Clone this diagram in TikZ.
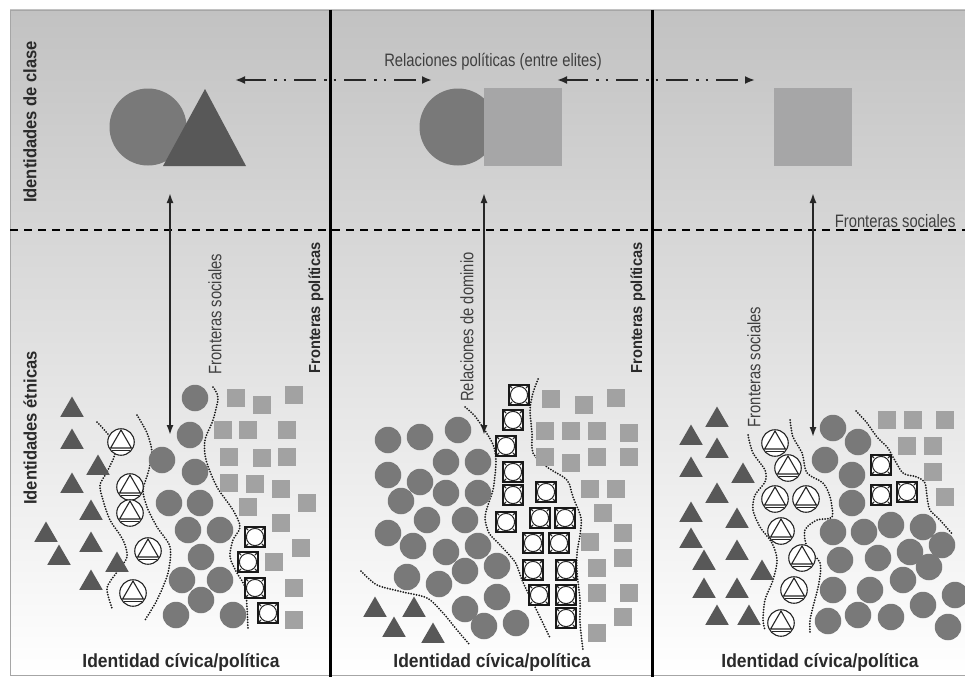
\documentclass[tikz,border=0pt]{standalone}
\usepackage{fontspec}
\setmainfont{Liberation Sans}
\newfontfamily\narrowlbl[FakeStretch=0.82]{Liberation Sans}
\newfontfamily\boldlbl[FakeStretch=0.92]{Liberation Sans}
\usetikzlibrary{shapes.geometric,arrows.meta}

\definecolor{bgtop}{HTML}{C2C2C2}
\definecolor{bgmid}{HTML}{E3E3E3}
\definecolor{bgbot}{HTML}{FFFFFF}
\definecolor{circgray}{HTML}{797979}
\definecolor{trigray}{HTML}{585858}
\definecolor{sqgray}{HTML}{A2A2A2}
\definecolor{bigsq}{HTML}{A6A6A7}
\definecolor{txtgray}{HTML}{2A2A2A}

\tikzset{
  circ/.style={circle, fill=circgray, minimum size=26.5pt, inner sep=0pt},
  tri/.style={regular polygon, regular polygon sides=3, fill=trigray,
    minimum size=27pt, inner sep=0pt, yshift=-3pt},
  sq/.style={rectangle, fill=sqgray, minimum size=18pt, inner sep=0pt},
  circtri/.style={circle, draw=black!85, line width=1.1pt, fill=white,
    minimum size=26.5pt, inner sep=0pt,
    path picture={
      \draw[black!85, line width=1.1pt]
        ([yshift=12pt]path picture bounding box.center)
        -- ([shift={(-10.4pt,-6pt)}]path picture bounding box.center)
        -- ([shift={(10.4pt,-6pt)}]path picture bounding box.center) -- cycle;
      \draw[black!85, line width=1.1pt]
        ([shift={(-9pt,-8.8pt)}]path picture bounding box.center)
        -- ([shift={(9pt,-8.8pt)}]path picture bounding box.center);
    }},
  sqcirc/.style={rectangle, draw=black!90, line width=1.6pt, fill=white,
    minimum size=20.5pt, inner sep=0pt,
    path picture={
      \draw[black!85, line width=1pt]
        (path picture bounding box.center) circle[radius=8.6pt];
      \foreach \a in {45,135,225,315}
        \draw[black!85, line width=1.1pt]
          ([shift={(\a:14.5pt)}]path picture bounding box.center)
          -- ([shift={(\a:10pt)}]path picture bounding box.center);
    }},
  frontdots/.style={line width=2pt, black!90, line cap=round,
    dash pattern=on 0pt off 2.7pt},
  relarrow/.style={line width=2.3pt, black!85,
    dash pattern=on 22pt off 8pt on 2.5pt off 7pt on 2.5pt off 8pt,
    {Latex[length=10pt,width=8pt]}-{Latex[length=10pt,width=8pt]}},
  domarrow/.style={line width=1.8pt, black!85,
    {Latex[length=10pt,width=7pt]}-{Latex[length=10pt,width=7pt]}},
  boldtxt/.style={text=txtgray, font=\boldlbl\bfseries\fontsize{#1}{#1}\selectfont},
  thintxt/.style={text=txtgray!90, font=\narrowlbl\fontsize{18}{20}\selectfont},
}

\begin{document}
\begin{tikzpicture}[x=1pt,y=-1pt]
\useasboundingbox (0,0) rectangle (965,677);
%% background
\shade[top color=bgtop, middle color=bgmid, bottom color=bgbot] (10,10) rectangle (965,675);
\draw[gray!70, line width=0.6pt] (965,10) -- (10,10) -- (10,675) -- (965,675);

%% class level
\fill[circgray] (148,127) circle[radius=38.5pt];
\fill[trigray] (205,89) -- (246,166) -- (163,166) -- cycle;
\fill[circgray] (458,127) circle[radius=38.5pt];
\fill[bigsq] (484,88) rectangle (562,166);
\fill[bigsq] (774,88) rectangle (852,166);

%% political borders
\draw[line width=3pt] (330,10) -- (330,677);
\draw[line width=3pt] (652,10) -- (652,677);
%% social border
\draw[line width=2.2pt, dash pattern=on 8pt off 6pt] (10,230) -- (965,230);

%% relations between elites
\coordinate (rel1a) at (235,80);
\coordinate (rel1b) at (432,80);
\coordinate (rel2a) at (557,80);
\coordinate (rel2b) at (755,80);
\draw[relarrow] (rel1a) -- (rel1b);
\draw[relarrow] (rel2a) -- (rel2b);
\node[thintxt] (reltxt) at (493,62) {Relaciones políticas (entre elites)};
\node[thintxt, anchor=base east] (fsoc) at (959,227) {Fronteras sociales};

%% vertical relations
\coordinate (up1) at (170,193);
\coordinate (dn1) at (170,435);
\coordinate (up2) at (484,193);
\coordinate (dn2) at (484,435);
\coordinate (up3) at (813,193);
\coordinate (dn3) at (813,437);
\draw[domarrow] (up1) -- (dn1);
\draw[domarrow] (up2) -- (dn2);
\draw[domarrow] (up3) -- (dn3);

%% labels
\node[boldtxt=18, rotate=90] (clase) at (30,122) {Identidades de clase};
\node[boldtxt=18, rotate=90] (etnia) at (30,428) {Identidades étnicas};
\node[boldtxt=15.9, rotate=90] (fpol1) at (316,308) {Fronteras políticas};
\node[boldtxt=15.9, rotate=90] (fpol2) at (638,308) {Fronteras políticas};
\node[thintxt, rotate=90] (fsoc1) at (215,314) {Fronteras sociales};
\node[thintxt, rotate=90] (dom) at (467,327) {Relaciones de dominio};
\node[thintxt, rotate=90] (fsoc3) at (754,367) {Fronteras sociales};
\node[boldtxt=19] (civ1) at (181,662) {Identidad cívica/política};
\node[boldtxt=19] (civ2) at (492,662) {Identidad cívica/política};
\node[boldtxt=19] (civ3) at (820,662) {Identidad cívica/política};

%% panel 1
\draw[frontdots] plot[smooth] coordinates {(97,422) (110,437) (115,453) (107,472) (100,485) (103,500) (110,520) (123,540) (127,557) (117,572) (107,588) (112,608)};
\draw[frontdots] plot[smooth] coordinates {(137,415) (147,433) (152,453) (148,473) (143,490) (147,507) (157,527) (170,547) (168,573) (157,600) (145,620)};
\draw[frontdots] plot[smooth] coordinates {(213,387) (218,398) (213,420) (205,440) (206,460) (217,487) (233,510) (240,527) (233,540) (230,557) (237,573) (245,587) (247,607) (248,630)};
\foreach \x/\y [count=\i] in {72/407, 72/439, 98/465, 72/483, 91/510, 46/532, 91/542, 59/555, 117/562, 91/580}
  \node[tri] (ta\i) at (\x,\y) {};
\foreach \x/\y [count=\i] in {121/442, 130/487, 130/513, 148/551, 133/593}
  \node[circtri] (ka\i) at (\x,\y) {};
\foreach \x/\y [count=\i] in {195/398, 190/435, 162/460, 195/472, 169/503, 200/503, 188/530, 220/530, 201/557, 182/580, 220/580, 201/600, 176/615, 233/615}
  \node[circ] (ca\i) at (\x,\y) {};
\foreach \x/\y [count=\i] in {236/398, 262/405, 294/395, 223/430, 248/430, 287/430, 229/457, 262/458, 287/457, 229/483, 255/484, 281/489, 307/503, 248/507, 281/523, 301/548, 274/562, 294/588, 294/620}
  \node[sq] (sa\i) at (\x,\y) {};
\foreach \x/\y [count=\i] in {255/537, 248/562, 255/588, 268/613}
  \node[sqcirc] (qa\i) at (\x,\y) {};

%% panel 2
\draw[frontdots] plot[smooth] coordinates {(361,571) (377,585) (403,592) (427,598) (443,613) (457,630) (470,645)};
\draw[frontdots] plot[smooth] coordinates {(465,407) (474,415) (482,426) (489,437) (494,447) (496,460) (495,475) (493,490) (488,505) (485,518) (489,533) (500,545) (515,562) (522,580) (530,597) (540,617) (550,638)};
\draw[frontdots] plot[smooth] coordinates {(538,379) (533,393) (530,410) (532,433) (533,453) (547,467) (567,480) (573,497) (581,518) (580,535) (577,553) (577,573) (580,600) (580,623) (583,650)};
\foreach \x/\y [count=\i] in {458/430, 420/437, 388/440, 446/462, 478/462, 388/475, 420/482, 446/493, 478/493, 401/501, 427/520, 465/520, 388/533, 413/546, 446/552, 478/546, 497/566, 465/571, 407/577, 439/584, 497/597, 465/609, 484/626, 516/623}
  \node[circ] (cb\i) at (\x,\y) {};
\foreach \x/\y [count=\i] in {375/607, 414/607, 394/627, 433/633}
  \node[tri] (tb\i) at (\x,\y) {};
\foreach \x/\y [count=\i] in {519/395, 513/420, 506/446, 513/472, 513/495, 546/492, 506/522, 540/518, 565/518, 533/543, 559/543, 533/570, 566/570, 539/595, 566/595, 566/618}
  \node[sqcirc] (qb\i) at (\x,\y) {};
\foreach \x/\y [count=\i] in {551/399, 584/405, 616/398, 545/431, 571/431, 597/431, 629/433, 545/457, 571/463, 597/457, 629/457, 590/489, 616/489, 603/513, 623/533, 590/542, 623/558, 597/568, 597/593, 629/593, 623/617, 597/633}
  \node[sq] (sb\i) at (\x,\y) {};

%% panel 3
\draw[frontdots] plot[smooth] coordinates {(748,435) (753,453) (765,470) (765,482) (755,495) (753,510) (760,527) (772,543) (777,560) (773,580) (765,600) (763,620) (765,630)};
\draw[frontdots] plot[smooth] coordinates {(790,420) (793,437) (802,453) (807,473) (823,483) (830,497) (832,517) (817,520) (805,530) (807,547) (820,563) (819,583) (814,603) (810,620) (810,633)};
\draw[frontdots] plot[smooth] coordinates {(856,411) (867,423) (877,437) (887,447) (893,457) (903,473) (917,477) (925,483) (927,497) (930,510) (940,520) (953,535)};
\foreach \x/\y [count=\i] in {717/417, 691/435, 717/448, 691/467, 743/473, 717/493, 691/512, 737/518, 691/538, 737/550, 704/560, 762/570, 704/588, 737/588, 717/615, 749/615}
  \node[tri] (tc\i) at (\x,\y) {};
\foreach \x/\y [count=\i] in {775/443, 788/468, 775/499, 806/499, 781/531, 802/558, 794/590, 781/623}
  \node[circtri] (kc\i) at (\x,\y) {};
\foreach \x/\y [count=\i] in {833/428, 858/442, 825/460, 852/475, 852/503, 833/532, 864/532, 891/525, 923/527, 840/560, 878/558, 910/552, 942/545, 929/567, 833/590, 870/590, 903/580, 955/595, 923/605, 828/621, 858/615, 891/617, 948/627}
  \node[circ] (cc\i) at (\x,\y) {};
\foreach \x/\y [count=\i] in {887/420, 913/420, 945/420, 907/446, 933/446, 933/472, 945/497}
  \node[sq] (sc\i) at (\x,\y) {};
\foreach \x/\y [count=\i] in {881/465, 881/495, 907/492}
  \node[sqcirc] (qc\i) at (\x,\y) {};
\end{tikzpicture}
\end{document}
